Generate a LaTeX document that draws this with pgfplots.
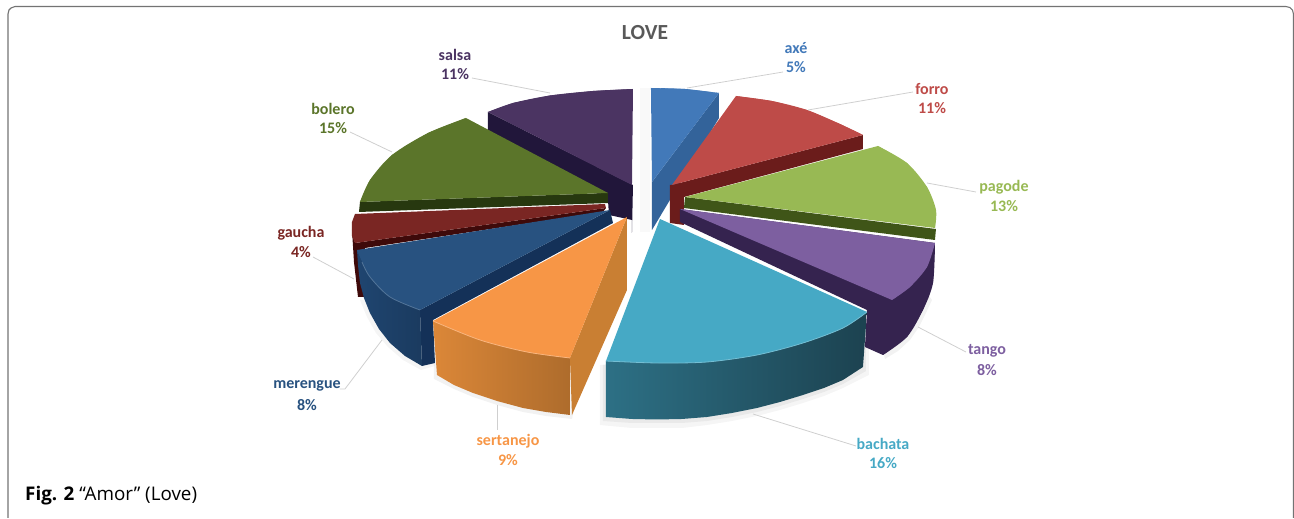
\documentclass[border=0pt]{standalone}
\usepackage{pgfplots}
\usepackage{fontspec}
\pgfplotsset{compat=1.18}
\setmainfont{Carlito}
\newfontfamily\capfont{Open Sans}
% slice colours
\definecolor{axeT}{HTML}{4279B9}\definecolor{axeS}{HTML}{33639A}
\definecolor{forT}{HTML}{BE4B48}\definecolor{forS}{HTML}{6B1C1B}
\definecolor{pagT}{HTML}{98B954}\definecolor{pagS}{HTML}{3F5518}
\definecolor{tanT}{HTML}{7D5FA0}\definecolor{tanS}{HTML}{35234F}
\definecolor{bacT}{HTML}{46A9C5}\definecolor{bacL}{HTML}{2D7085}\definecolor{bacR}{HTML}{1C4250}
\definecolor{serT}{HTML}{F79646}\definecolor{serL}{HTML}{DB8738}\definecolor{serR}{HTML}{AE6C2C}\definecolor{serI}{HTML}{C97F33}
\definecolor{merT}{HTML}{285280}\definecolor{merS}{HTML}{1F4570}\definecolor{merI}{HTML}{143158}
\definecolor{gauT}{HTML}{7A2623}\definecolor{gauS}{HTML}{3E0A0A}
\definecolor{bolT}{HTML}{5B752A}\definecolor{bolS}{HTML}{27380F}
\definecolor{salT}{HTML}{4B3462}\definecolor{salS}{HTML}{21163A}
\definecolor{leader}{HTML}{CFCFCF}
\pgfplotsset{
  face/.style={mark=none,draw=none,fill=#1},
  ramp/.style 2 args={mark=none,draw=none,left color=#1,right color=#2},
  rim/.style={mark=none,draw=#1,line width=0.8pt,fill=none,smooth},
  leadline/.style={mark=none,draw=leader,line width=0.8pt,fill=none},
}
% a pie face: the rounded edge #2 followed by the straight part #3
\newcommand{\arcface}[3]{%
  \addplot[face=#1] coordinates {#2 #3} --cycle;
  \addplot[face=#1,smooth] coordinates {#2};
}
\newcommand{\lab}[5]{%
  \node[text=#5,font=\fontsize{16}{18}\selectfont\bfseries,inner sep=0pt] at (axis cs:#1,#2) {#3};
  \node[text=#5,font=\fontsize{16}{18}\selectfont\bfseries,inner sep=0pt] at (axis cs:#1,#2+19) {#4};
}
\begin{document}
\begin{tikzpicture}
\begin{axis}[
  scale only axis, width=1294pt, height=519pt,
  xmin=0, xmax=1294, ymin=0, ymax=519, y dir=reverse,
  hide axis, clip=false,
]
% full page extent
\path (axis cs:0,0) -- (axis cs:1294,519);
% panel outline, open along the bottom edge
\addplot[mark=none,draw=black!55,line width=1.1pt,fill=none] coordinates
  {(8,518) (8,14) (9,10) (11,8) (15,6.5) (1286,6.5) (1290,7.5) (1292.5,10) (1293.5,14) (1293.5,518)};

% soft shadow under the pie
\addplot[face=black,fill opacity=0.05] coordinates {(603,365)(603,421)(632,423)(657,423)(682,423)(707,421)(732,417)(757,412)(780,406)(803,399)(824,392)(843,384)(866,371)(866,340)} --cycle;
\addplot[face=black,fill opacity=0.04] coordinates {(600,365)(600,425)(632,428)(657,428)(682,428)(707,425)(732,421)(757,416)(780,410)(803,403)(824,396)(843,388)(869,375)(869,340)} --cycle;
\addplot[face=black,fill opacity=0.05] coordinates {(434,340)(434,379)(454,389)(473,397)(497,405)(523,412)(546,416)(572,419)(590,340)} --cycle;
\addplot[face=black,fill opacity=0.05] coordinates {(880,340)(885,359)(898,351)(910,340)(919,327)(926,313)(932,300)(925,290)} --cycle;
\addplot[face=black,fill opacity=0.04] coordinates {(360,300)(367,317)(376,333)(388,347)(403,360)(421,370)(435,366)(420,300)} --cycle;
\addplot[face=black,fill opacity=0.025] coordinates {(640,88)(650,88)(650,232)(640,232)} --cycle;

% axe
\addplot[face=axeS] coordinates {(652,182)(719,93)(719,118)(652,230)} --cycle;
\arcface{axeT}{(651,88)(685,89)(719,93)}{(652,182)}

% salsa
\addplot[face=salS] coordinates {(488,112)(488,130)(608,200)(609,215)(632,220)(632,233)(633,185)} --cycle;
\arcface{salT}{(633,89)(593,91)(550,95.5)(513,103)(488,112)}{(632,185)}

% forro
\addplot[face=forS] coordinates {(672,185)(863,135)(863,149)(684,197)(684,225)(670,223)(670,185)} --cycle;
\arcface{forT}{(736,96)(772,101)(807,110)(840,124)(863,135)}{(672,185)}

% tango
\arcface{tanS}{(935,243)(933,283)(923,310)(907,337)(883,355)}{(865,347)(867,310)(680,222)(680,209)}
\arcface{tanT}{(935,243)(927,267)(910,287)(892,300)}{(680,209)}

% pagode
\addplot[face=pagS] coordinates {(685,197)(936,229)(935,240)(684,208)} --cycle;
\arcface{pagT}{(878,146)(907,163)(927,187)(936,210)(935,228)}{(685,197)}

% bolero
\addplot[face=bolS] coordinates {(360,202)(359,212)(608,203)(608,193)} --cycle;
\arcface{bolT}{(466,118)(428,133)(392,155)(370,180)(360,202)}{(608,193)}

% gaucha
\addplot[face=gauS] coordinates {(352,230)(354,262)(358,297)(365,297)(365,248)(603,212)(606,208)(355,243)} --cycle;
\addplot[face=gauT] coordinates {(355,214)(605,204)(606,208)(355,243)(352,236)(352,222)} --cycle;

% merengue
\addplot[face=merI] coordinates {(420,310)(610,210)(613,223)(433,320)(435,363)(422,366)} --cycle;
\addplot[ramp={merS}{merS!85!black}] coordinates {(357,250)(358,265)(360,283)(364,298)(370,313)(379,329)(390,343)(405,356)(422,366)(420,310)} --cycle;
\arcface{merT}{(357,250)(370,277)(390,297)(420,310)}{(610,210)}
\addplot[rim=merT!80!white] coordinates {(362,262)(370,277)(390,297)(420,310)};

% sertanejo
\addplot[face=serI] coordinates {(627,217)(627,290)(572,415)(570,358)} --cycle;
\addplot[ramp={serL}{serR}] coordinates {(433,321)(437,375)(454,385)(473,393)(497,401)(523,408)(546,412)(570,415)(570,358)} --cycle;
\arcface{serT}{(433,321)(480,340)(527,352)(570,358)}{(627,217)}
\addplot[rim=serT!70!white] coordinates {(433,321)(480,340)(527,352)(570,358)};

% bachata
\addplot[ramp={bacL}{bacR}] coordinates {(606,361)(606,417)(632,419)(657,419.5)(682,419)(707,417)(732,413)(757,408)(780,402)(803,395)(824,388)(843,380)(863,367)(867,312)} --cycle;
\arcface{bacT}{(867,312)(843,328)(803,343)(757,355)(707,362)(657,363)(606,361)}{(660,219)}
\addplot[rim=bacT!75!white] coordinates {(867,312)(843,328)(803,343)(757,355)(707,362)(657,363)(606,361)};

% leader lines
\addplot[leadline] coordinates {(687,88)(783,72)};
\addplot[leadline] coordinates {(808,110)(913,92)};
\addplot[leadline] coordinates {(927,183)(976,192)};
\addplot[leadline] coordinates {(918,327)(966,352)};
\addplot[leadline] coordinates {(753,414)(856,446)};
\addplot[leadline] coordinates {(497,405)(497,430)};
\addplot[leadline] coordinates {(382,340)(345,389)(340,389)};
\addplot[leadline] coordinates {(313,257)(354,279)};
\addplot[leadline] coordinates {(350,132)(392,152)};
\addplot[leadline] coordinates {(472,78)(550,93)};

% title, labels, caption
\node[text=black!65,font=\fontsize{21.5}{24}\selectfont\bfseries,inner sep=0pt] at (axis cs:645,33) {LOVE};
\lab{796}{48}{axé}{5\%}{axeT}
\lab{932}{89}{forro}{11\%}{forT}
\lab{1004}{187}{pagode}{13\%}{pagT}
\lab{987}{351}{tango}{8\%}{tanT}
\lab{883}{444}{bachata}{16\%}{bacT}
\lab{508}{441}{sertanejo}{9\%}{serT}
\lab{307}{386}{merengue}{8\%}{merT}
\lab{301}{233}{gaucha}{4\%}{gauT}
\lab{333}{109}{bolero}{15\%}{bolT}
\lab{455}{55}{salsa}{11\%}{salT}
\node[anchor=west,inner sep=0pt,text=black,font=\capfont\fontsize{18.8}{20}\selectfont] at (axis cs:25,496) {\textbf{Fig. 2} “Amor” (Love)};
\end{axis}
\end{tikzpicture}
\end{document}
